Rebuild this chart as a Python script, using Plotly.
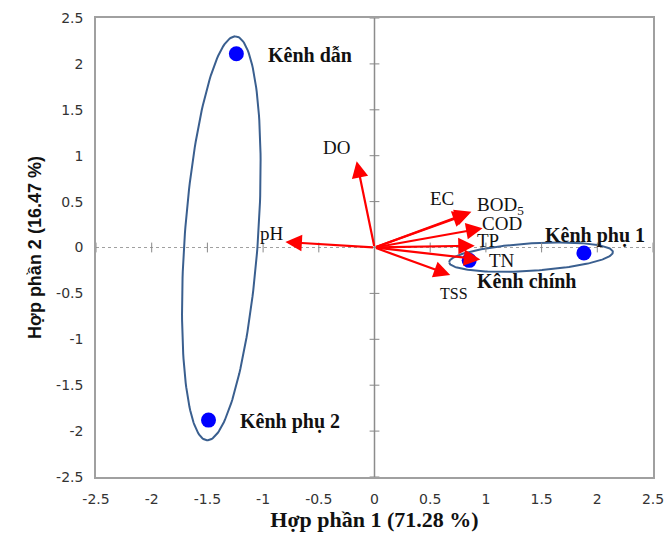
import numpy as np
import plotly.graph_objects as go

# Sites (scores)
sites = ["Kênh dẫn", "Kênh phụ 2", "Kênh phụ 1", "Kênh chính"]
site_x = [-1.24, -1.49, 1.88, 0.85]
site_y = [2.11, -1.88, -0.06, -0.14]
site_lx = [-0.58, -0.76, 1.98, 1.36]
site_ly = [2.10, -1.90, 0.13, -0.37]

# Variables (loadings)
vars_ = ["DO", "pH", "EC", "BOD<sub>5</sub>", "COD", "TP", "TN", "TSS"]
var_x = [-0.16, -0.80, 0.85, 0.87, 0.97, 0.90, 0.95, 0.68]
var_y = [0.94, 0.06, 0.37, 0.39, 0.21, 0.02, -0.13, -0.30]
var_lx = [-0.34, -0.92, 0.61, 1.13, 1.14, 1.02, 1.14, 0.71]
var_ly = [1.09, 0.15, 0.53, 0.45, 0.26, 0.08, -0.14, -0.50]

ticks = [-2.5, -2, -1.5, -1, -0.5, 0, 0.5, 1, 1.5, 2, 2.5]
tick_text = ["-2.5", "-2", "-1.5", "-1", "-0.5", "0", "0.5", "1", "1.5", "2", "2.5"]

# Group ellipses: major-axis endpoints and minor half-vector (data units)
ell_a1 = [(-1.25, 2.30), (0.67, -0.16)]
ell_a2 = [(-1.50, -2.10), (2.14, -0.05)]
ell_b = [(0.33, 0.0), (0.0, 0.15)]

fig = go.Figure()

# ellipses
t = np.linspace(0, 2 * np.pi, 200)
for p1, p2, b in zip(ell_a1, ell_a2, ell_b):
    cx, cy = (p1[0] + p2[0]) / 2, (p1[1] + p2[1]) / 2
    ax_, ay_ = (p1[0] - p2[0]) / 2, (p1[1] - p2[1]) / 2
    ex = cx + ax_ * np.cos(t) + b[0] * np.sin(t)
    ey = cy + ay_ * np.cos(t) + b[1] * np.sin(t)
    fig.add_trace(go.Scatter(x=ex, y=ey, mode="lines",
                             line=dict(color="#3a5f8f", width=2),
                             hoverinfo="skip", showlegend=False))

# tick marks on zero lines
fig.add_trace(go.Scatter(x=[0] * len(ticks), y=ticks, mode="markers",
                         marker=dict(symbol="line-ew", size=7,
                                     line=dict(color="#888", width=1)),
                         hoverinfo="skip", showlegend=False))
fig.add_trace(go.Scatter(x=ticks, y=[0] * len(ticks), mode="markers",
                         marker=dict(symbol="line-ns", size=7,
                                     line=dict(color="#888", width=1)),
                         hoverinfo="skip", showlegend=False))

# site points
fig.add_trace(go.Scatter(x=site_x, y=site_y, mode="markers",
                         marker=dict(color="#0000ff", size=15),
                         showlegend=False))

# zero lines
fig.add_shape(type="line", x0=0, x1=0, y0=-2.5, y1=2.5, xref="x", yref="y",
              line=dict(color="#8c8c8c", width=1.5), layer="below")
fig.add_shape(type="line", x0=-2.5, x1=2.5, y0=0, y1=0, xref="x", yref="y",
              line=dict(color="#a0a0a0", width=1.2, dash="dot"), layer="below")

# arrows
for vx, vy in zip(var_x, var_y):
    fig.add_annotation(x=vx, y=vy, ax=0, ay=0, xref="x", yref="y",
                       axref="x", ayref="y", text="", showarrow=True,
                       arrowhead=2, arrowsize=1.5, arrowwidth=2.2,
                       arrowcolor="#ff0000")

for name, lx, ly in zip(vars_, var_lx, var_ly):
    fsize = 16 if name == "TSS" else 19
    fig.add_annotation(x=lx, y=ly, text=name, showarrow=False,
                       font=dict(family="Liberation Serif", size=fsize, color="#111"))

for name, lx, ly in zip(sites, site_lx, site_ly):
    fig.add_annotation(x=lx, y=ly, text="<b>" + name + "</b>", showarrow=False,
                       font=dict(family="Liberation Serif", size=20, color="#111"))

axis_common = dict(range=[-2.5, 2.5], tickvals=ticks, ticktext=tick_text,
                   showgrid=False, zeroline=False, showline=True, mirror=True,
                   linecolor="#a0a0a0", linewidth=1.5, ticks="",
                   ticklabelstandoff=8, automargin=False,
                   tickfont=dict(family="DejaVu Sans", size=14, color="#333"))

fig.update_layout(
    width=666, height=538,
    margin=dict(l=96, r=13, t=18, b=61),
    paper_bgcolor="white", plot_bgcolor="white",
    xaxis=dict(**axis_common,
               title=dict(text="<b>Hợp phần 1 (71.28 %)</b>", standoff=4,
                          font=dict(family="Liberation Serif", size=22, color="#111"))),
    yaxis=dict(**axis_common,
               title=dict(text="<b>Hợp phần 2 (16.47 %)</b>", standoff=10,
                          font=dict(family="Liberation Sans", size=18, color="#111"))),
)

fig.write_html("out.html", config={"displayModeBar": False},
               post_script="document.body.style.margin='0px';document.body.style.overflow='hidden';")
